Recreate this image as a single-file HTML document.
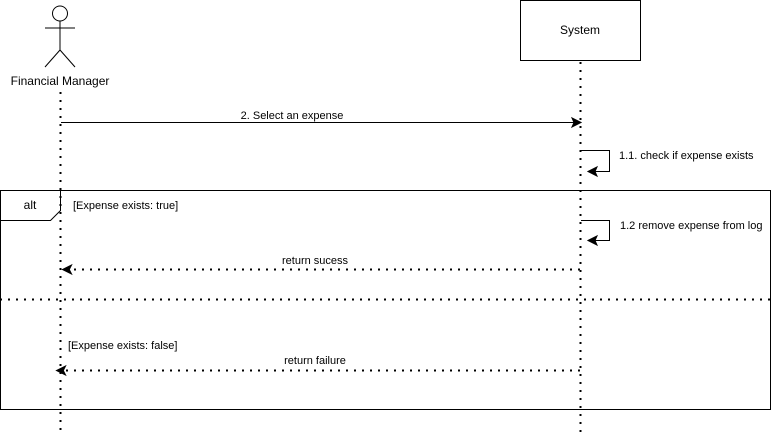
<!DOCTYPE html>
<html><head><style>html,body{margin:0;padding:0;background:#fff;}svg{display:block;}</style></head>
<body>
<svg width="776" height="433" viewBox="0 0 776 433" xmlns="http://www.w3.org/2000/svg" font-family="Liberation Sans, sans-serif" font-size="11">
<g stroke="#000" stroke-width="1" fill="none">
<circle cx="60" cy="13.5" r="7.5" fill="#fff"/>
<line x1="60" y1="21" x2="60" y2="50"/>
<line x1="45" y1="28" x2="75" y2="28"/>
<line x1="60" y1="50" x2="45" y2="67"/>
<line x1="60" y1="50" x2="75" y2="67"/>
<rect x="520.5" y="0.5" width="120" height="60" fill="#fff"/>
<rect x="0.5" y="190.5" width="770" height="219"/>
<path d="M0.5 220.5 H50.5 L60.5 210.5 V190.5"/>
<line x1="60.5" y1="92" x2="60.5" y2="433" stroke-dasharray="2 6" stroke-width="2"/>
<line x1="580.5" y1="62" x2="580.5" y2="433" stroke-dasharray="2 6" stroke-width="2"/>
<line x1="0" y1="299.5" x2="776" y2="299.5" stroke-dasharray="2 6" stroke-width="2"/>
<line x1="61" y1="122.5" x2="574" y2="122.5"/>
<path d="M581 122.5 L572 118 L574 122.5 L572 127 Z" fill="#000"/>
<path d="M581 150.5 H609.5 V171.5 H594"/>
<path d="M588 171.5 L597 167 L595 171.5 L597 176 Z" fill="#000"/>
<path d="M581 220.5 H609.5 V240.5 H594"/>
<path d="M588 240.5 L597 236 L595 240.5 L597 245 Z" fill="#000"/>
<line x1="580" y1="269.5" x2="70" y2="269.5" stroke-dasharray="2 6" stroke-width="2"/>
<path d="M63 269.5 L71 265.5 L69 269.5 L71 273.5 Z" fill="#000" stroke-width="1.5"/>
<line x1="580" y1="370.5" x2="64" y2="370.5" stroke-dasharray="2 6" stroke-width="2"/>
<path d="M57 370.5 L65 366.5 L63 370.5 L65 374.5 Z" fill="#000" stroke-width="1.5"/>
</g>
<g fill="#000">
<text x="60" y="85" text-anchor="middle" font-size="12">Financial Manager</text>
<text x="580" y="34" text-anchor="middle" font-size="12">System</text>
<text x="292" y="119" text-anchor="middle">2. Select an expense</text>
<text x="619" y="159">1.1. check if expense exists</text>
<text x="620" y="229">1.2 remove expense from log</text>
<text x="30" y="209" text-anchor="middle" font-size="12">alt</text>
<text x="73" y="209">[Expense exists: true]</text>
<text x="315" y="264" text-anchor="middle">return sucess</text>
<text x="68" y="349">[Expense exists: false]</text>
<text x="315" y="364" text-anchor="middle">return failure</text>
</g>
</svg>
</body></html>
